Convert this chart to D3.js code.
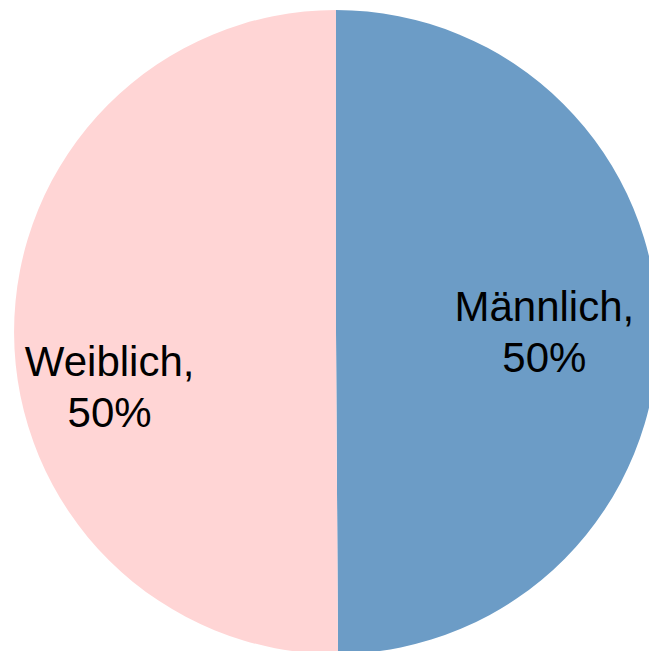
<!DOCTYPE html>
<html>
<head>
<meta charset="utf-8">
<script src="https://cdn.jsdelivr.net/npm/d3@7"></script>
<style>
  body { margin: 0; background: #fff; }
  svg { display: block; }
</style>
</head>
<body>
<svg width="649" height="651"></svg>
<script>
// data
var categories = ['Männlich', 'Weiblich']
var values = [49.9, 50.1]
var labels = ['50%', '50%']
var colors = ['#6c9cc6', '#ffd5d5']

var svg = d3.select('svg'),
    cx = 336,
    cy = 332,
    radius = 322

var pie = d3.pie().sort(null).value(d => d)
var arcs = pie(values)

var arc = d3.arc().innerRadius(0).outerRadius(radius)

var g = svg.append('g')
    .attr('transform', 'translate(' + cx + ',' + cy + ')')

g.selectAll('path')
    .data(arcs)
    .enter()
    .append('path')
    .attr('d', arc)
    .style('fill', (d, i) => colors[i])

// labels: excel puts them a bit off the centroid
var labelArc = d3.arc().innerRadius(0).outerRadius(radius * 1.35)
var nudge = [[-9, 0], [-9, 53]]

var t = g.selectAll('text.lbl')
    .data(arcs)
    .enter()
    .append('text')
    .attr('class', 'lbl')
    .attr('text-anchor', 'middle')
    .style('font-family', '"Liberation Sans", Arial, sans-serif')
    .style('font-size', '42px')
    .style('fill', '#000')
    .attr('transform', function(d, i) {
        var c = labelArc.centroid(d)
        return 'translate(' + (c[0] + nudge[i][0]) + ',' + (c[1] + nudge[i][1]) + ')'
    })

t.append('tspan')
    .attr('x', 0)
    .attr('y', -10)
    .text((d, i) => categories[i] + ',')
t.append('tspan')
    .attr('x', 0)
    .attr('y', 41)
    .text((d, i) => labels[i])
</script>
</body>
</html>
